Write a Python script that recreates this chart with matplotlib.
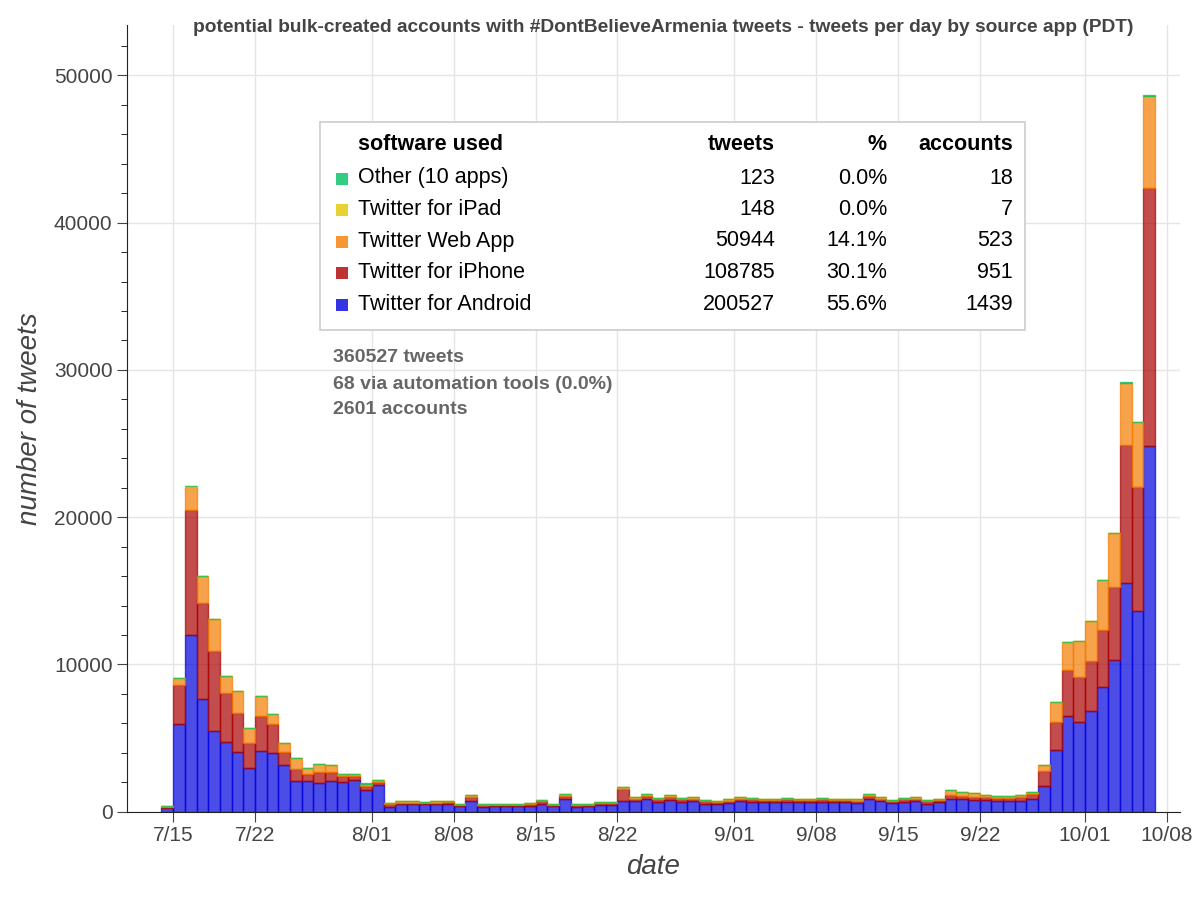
import numpy as np
import pandas as pd
import matplotlib
matplotlib.use('Agg')
import matplotlib.pyplot as plt
import matplotlib.dates as mdates
from matplotlib.patches import Rectangle

plt.rcParams['font.family'] = 'Liberation Sans'

days = pd.date_range('2020-07-14', '2020-10-06', freq='D')

android = [250, 5990, 12020, 7660, 5490, 4750, 4050, 3000, 4110, 4020,
           3210, 2080, 2120, 1970, 2080, 1990, 2170, 1510, 1790, 340,
           520, 530, 510, 520, 540, 360, 700, 330, 380, 360,
           380, 420, 560, 390, 900, 350, 390, 460, 460, 700,
           720, 850, 680, 820, 680, 720, 560, 530, 600, 720,
           680, 640, 650, 680, 640, 650, 680, 640, 650, 600,
           880, 720, 580, 680, 720, 560, 640, 900, 850, 820,
           780, 750, 740, 760, 850,
           1740, 4170, 6530, 6070, 6860, 8460, 10330, 15510, 13610, 24830]
iphone = [100, 2640, 8500, 6510, 5420, 3320, 2670, 1680, 2400, 1920,
          840, 840, 480, 750, 630, 430, 270, 230, 220, 160,
          110, 100, 100, 110, 110, 90, 300, 100, 100, 100,
          100, 110, 140, 100, 200, 90, 100, 110, 110, 850,
          180, 220, 160, 200, 170, 170, 150, 140, 150, 170,
          170, 160, 160, 170, 160, 160, 170, 160, 160, 160,
          200, 180, 140, 180, 180, 150, 160, 250, 220, 210,
          220, 200, 210, 220, 350,
          1050, 1960, 3080, 3050, 3370, 3910, 4920, 9420, 8460, 17550]
webapp = [50, 470, 1560, 1850, 2150, 1150, 1450, 1010, 1330, 700,
          590, 700, 380, 540, 450, 160, 140, 180, 160, 110,
          70, 70, 70, 70, 70, 50, 150, 70, 70, 60,
          70, 70, 100, 60, 100, 60, 60, 80, 80, 100,
          100, 130, 110, 130, 100, 110, 90, 80, 100, 110,
          100, 100, 90, 100, 100, 90, 100, 100, 90, 90,
          120, 100, 80, 90, 100, 90, 100, 300, 280, 270,
          150, 150, 150, 170, 150,
          390, 1320, 1940, 2460, 2730, 3370, 3680, 4200, 4400, 6230]
ipad = [0, 5, 10, 8, 6, 4, 4, 3, 4, 3, 2, 2, 2, 2, 2, 1, 1, 1, 1, 0,
        1, 1, 1, 1, 1, 1, 2, 1, 1, 1, 1, 1, 1, 1, 2, 1, 1, 1, 1, 2,
        1, 1, 1, 1, 1, 1, 1, 1, 1, 1, 1, 1, 1, 1, 1, 1, 1, 1, 1, 1,
        1, 1, 1, 1, 1, 1, 1, 2, 2, 2, 1, 1, 1, 1, 1,
        2, 3, 4, 4, 5, 6, 7, 10, 9, 15]
other = [0, 4, 8, 6, 5, 3, 3, 2, 3, 3, 2, 2, 1, 2, 1, 1, 1, 1, 1, 0,
         1, 1, 1, 1, 1, 0, 2, 1, 1, 1, 1, 1, 1, 1, 2, 1, 1, 1, 1, 2,
         1, 1, 1, 1, 1, 1, 1, 1, 1, 1, 1, 1, 1, 1, 1, 1, 1, 1, 1, 1,
         1, 1, 1, 1, 1, 1, 1, 2, 2, 2, 1, 1, 1, 1, 1,
         2, 3, 3, 3, 4, 5, 6, 8, 7, 12]

series = [('Twitter for Android', android, '#0000dd'),
          ('Twitter for iPhone', iphone, '#aa0000'),
          ('Twitter Web App', webapp, '#f57c00'),
          ('Twitter for iPad', ipad, '#e0c800'),
          ('Other (10 apps)', other, '#00c060')]

table_names = ['Other (10 apps)', 'Twitter for iPad', 'Twitter Web App',
               'Twitter for iPhone', 'Twitter for Android']
table_colors = ['#00c060', '#e0c800', '#f57c00', '#aa0000', '#0000dd']
table_tweets = ['123', '148', '50944', '108785', '200527']
table_pct = ['0.0%', '0.0%', '14.1%', '30.1%', '55.6%']
table_accounts = ['18', '7', '523', '951', '1439']
stats_lines = ['360527 tweets', '68 via automation tools (0.0%)', '2601 accounts']

fig = plt.figure(figsize=(12, 9), dpi=100)
ax = fig.add_axes([0.106, 0.098, 0.877, 0.874])

bottom = np.zeros(len(days))
for name, vals, col in series:
    vals = np.array(vals, dtype=float)
    ax.bar(days, vals, width=1.0, align='edge', bottom=bottom,
           color=col, alpha=0.7, edgecolor=col, linewidth=1.0, zorder=2)
    bottom += vals

x0 = mdates.date2num(pd.Timestamp('2020-07-15'))
ax.set_xlim(x0 - 3.93, x0 + 86.1)
ax.set_ylim(0, 53400)

tick_days = ['2020-07-15', '2020-07-22', '2020-08-01', '2020-08-08', '2020-08-15',
             '2020-08-22', '2020-09-01', '2020-09-08', '2020-09-15', '2020-09-22',
             '2020-10-01', '2020-10-08']
ax.set_xticks([pd.Timestamp(d) for d in tick_days])
ax.set_xticklabels([f"{pd.Timestamp(d).month}/{pd.Timestamp(d).day:02d}" for d in tick_days])
ax.set_yticks(range(0, 50001, 10000))
ax.set_yticks(range(0, 53001, 2000), minor=True)
ax.tick_params(axis='both', labelsize=15, colors='#444444', direction='out', length=7)
ax.tick_params(axis='y', which='minor', length=4)
ax.tick_params(axis='x', which='minor', bottom=False)

ax.grid(True, color='#e5e5e5', linewidth=1, zorder=0)
ax.set_axisbelow(True)
for s in ['top', 'right']:
    ax.spines[s].set_visible(False)
for s in ['left', 'bottom']:
    ax.spines[s].set_color('#222222')

ax.set_xlabel('date', fontsize=20, style='italic', color='#444444', labelpad=6)
ax.set_ylabel('number of tweets', fontsize=20, style='italic', color='#444444', labelpad=8)
fig.text(0.553, 0.970, 'potential bulk-created accounts with #DontBelieveArmenia tweets - '
         'tweets per day by source app (PDT)', ha='center', va='center',
         fontsize=13.8, fontweight='bold', color='#444444')

# legend table
W, H = 1200.0, 900.0
def fx(px):
    return px / W
def fy(py):
    return 1 - py / H

fig.patches.append(Rectangle((fx(320), fy(330)), fx(1025) - fx(320), fy(122) - fy(330),
                             transform=fig.transFigure, facecolor='white',
                             edgecolor='#cccccc', linewidth=1.2, zorder=5))
hdr_y = fy(145)
fs = 15.5
fig.text(fx(358), hdr_y, 'software used', fontsize=fs, fontweight='bold', va='center', zorder=6)
fig.text(fx(775), hdr_y, 'tweets', fontsize=fs, fontweight='bold', va='center', ha='right', zorder=6)
fig.text(fx(887), hdr_y, '%', fontsize=fs, fontweight='bold', va='center', ha='right', zorder=6)
fig.text(fx(1013), hdr_y, 'accounts', fontsize=fs, fontweight='bold', va='center', ha='right', zorder=6)
for i, name in enumerate(table_names):
    y = fy(178 + i * 31.5)
    fig.patches.append(Rectangle((fx(336), y - 0.0075), fx(12), 0.0135,
                                 transform=fig.transFigure, facecolor=table_colors[i],
                                 alpha=0.8, edgecolor='none', zorder=6))
    fig.text(fx(358), y, name, fontsize=fs, va='center', zorder=6)
    fig.text(fx(775), y, table_tweets[i], fontsize=fs, va='center', ha='right', zorder=6)
    fig.text(fx(887), y, table_pct[i], fontsize=fs, va='center', ha='right', zorder=6)
    fig.text(fx(1013), y, table_accounts[i], fontsize=fs, va='center', ha='right', zorder=6)

for i, line in enumerate(stats_lines):
    fig.text(fx(333), fy(358 + i * 26), line, fontsize=14, fontweight='bold',
             color='#666666', va='center')

fig.savefig('out.png', dpi=100)
plt.close(fig)
